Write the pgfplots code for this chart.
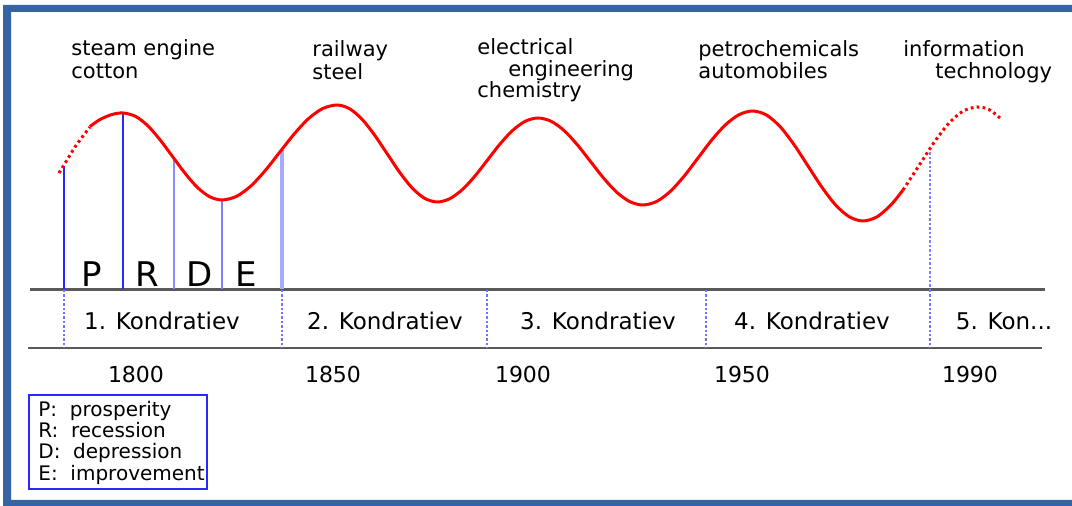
\documentclass[border=0pt]{standalone}
\usepackage{fontspec}
\setmainfont{DejaVu Sans}
\usepackage{pgfplots}
\pgfplotsset{compat=1.18}
\definecolor{frameblue}{RGB}{52,100,164}
\definecolor{curvered}{RGB}{255,0,0}
\definecolor{lineblue}{RGB}{40,40,255}
\definecolor{bandgray}{RGB}{90,90,90}
\begin{document}
\begin{tikzpicture}
\useasboundingbox (0,0) rectangle (536pt,253pt);
\begin{axis}[
  at={(0,0)}, anchor=south west,
  scale only axis, width=536pt, height=253pt,
  xmin=0, xmax=1072, ymin=0, ymax=506, y dir=reverse,
  hide axis, clip=false,
  every axis plot/.append style={no markers},
]
% frame: left, top and bottom bars only (right side lies outside the picture)
\fill[frameblue] (axis cs:1072,5) -- (axis cs:3,5) -- (axis cs:3,506) -- (axis cs:1072,506) -- (axis cs:1072,500) -- (axis cs:11,500) -- (axis cs:11,12) -- (axis cs:1072,12) -- cycle;
% band lines
\addplot[bandgray, line width=1.2pt] coordinates {(30,289.5) (1045,289.5)};
\addplot[bandgray, line width=1.2pt] coordinates {(28,348) (1042,348)};
% blue vertical lines (phases)
\addplot[lineblue, line width=0.8pt] coordinates {(64,166) (64,289)};
\addplot[lineblue, line width=0.8pt] coordinates {(123,113) (123,289)};
\addplot[lineblue!55, line width=1.2pt] coordinates {(174,158) (174,289)};
\addplot[lineblue!60, line width=1.2pt] coordinates {(222,200) (222,289)};
\addplot[lineblue!40, line width=1.6pt] coordinates {(282,150) (282,289)};
\addplot[lineblue!60, line width=0.7pt, dash pattern=on 1.2pt off 1pt] coordinates {(930,148) (930,289)};
% dashed separators in the band
\addplot[lineblue!65, line width=0.6pt, dash pattern=on 1.2pt off 1pt] coordinates {(64,290) (64,348)};
\addplot[lineblue!65, line width=0.6pt, dash pattern=on 1.2pt off 1pt] coordinates {(282,290) (282,348)};
\addplot[lineblue!65, line width=0.6pt, dash pattern=on 1.2pt off 1pt] coordinates {(487,290) (487,348)};
\addplot[lineblue!65, line width=0.6pt, dash pattern=on 1.2pt off 1pt] coordinates {(706,290) (706,348)};
\addplot[lineblue!65, line width=0.6pt, dash pattern=on 1.2pt off 1pt] coordinates {(930,290) (930,348)};
% wave
\addplot[curvered, line width=1.5pt, smooth, dash pattern=on 1.4pt off 1.6pt] coordinates {
(59,173) (67,160) (75,147) (83,136) (90,127)};
\addplot[curvered, line width=1.5pt, smooth] coordinates {
(90,126.5) (100,119.5) (112,114.5) (123,113)
(135.4,116.3) (147.75,125.7) (160.1,139.9) (172.5,156.5) (184.9,173.1) (197.25,187.3) (209.6,196.7) (222,200)
(236.4,196.4) (250.75,186.1) (265.1,170.7) (279.5,152.5) (293.9,134.3) (308.25,118.9) (322.6,108.6) (337,105)
(349.5,108.7) (362,119.2) (374.5,135.0) (387,153.5) (399.5,172.1) (412,187.8) (424.5,198.3) (437,202)
(449.6,198.8) (462.25,189.7) (474.9,176.1) (487.5,160) (500.1,143.9) (512.75,130.3) (525.4,121.2) (538,118)
(551.1,121.3) (564.25,130.7) (577.4,144.9) (590.5,161.5) (603.6,178.1) (616.75,192.3) (629.9,201.7) (643,205)
(656.75,201.4) (670.5,191.2) (684.25,176.0) (698,158) (711.75,140.0) (725.5,124.8) (739.25,114.6) (753,111)
(766.75,115.2) (780.5,127.1) (794.25,145.0) (808,166) (821.75,187.0) (835.5,204.9) (849.25,216.8) (863,221)
(877.25,216.7) (891.5,204.3) (903,190)};
\addplot[curvered, line width=1.5pt, smooth, dash pattern=on 1.4pt off 1.6pt] coordinates {
(903,190) (920,164) (934.25,142.2) (948.5,123.7) (962.75,111.3) (977,107) (989,109.5) (1000,118)};
% top labels
\tikzset{lab/.style={inner sep=0pt, anchor=base west, font=\fontsize{10.5}{12}\selectfont}}
\node[lab] at (axis cs:71,56) {steam engine};
\node[lab] at (axis cs:71,79) {cotton};
\node[lab] at (axis cs:312,57) {railway};
\node[lab] at (axis cs:312,80) {steel};
\node[lab] at (axis cs:477,55) {electrical};
\node[lab] at (axis cs:508,77) {engineering};
\node[lab] at (axis cs:477,98) {chemistry};
\node[lab] at (axis cs:698,57) {petrochemicals};
\node[lab] at (axis cs:698,79) {automobiles};
\node[lab] at (axis cs:903,57) {information};
\node[lab] at (axis cs:935,79) {technology};
% phase letters
\tikzset{ph/.style={inner sep=0pt, anchor=base, font=\fontsize{17}{18}\selectfont}}
\node[ph] at (axis cs:92,287) {P};
\node[ph] at (axis cs:147,287) {R};
\node[ph] at (axis cs:200,287) {D};
\node[ph] at (axis cs:246,287) {E};
% Kondratiev labels
\tikzset{kl/.style={inner sep=0pt, anchor=base, font=\fontsize{11.5}{12}\selectfont}}
\node[kl] at (axis cs:162,330) {1. Kondratiev};
\node[kl] at (axis cs:385,330) {2. Kondratiev};
\node[kl] at (axis cs:598,330) {3. Kondratiev};
\node[kl] at (axis cs:812,330) {4. Kondratiev};
\node[kl] at (axis cs:1004,330) {5. Kon...};
% years
\tikzset{yr/.style={inner sep=0pt, anchor=base, font=\fontsize{11}{12}\selectfont}}
\node[yr] at (axis cs:136,383) {1800};
\node[yr] at (axis cs:333,383) {1850};
\node[yr] at (axis cs:523,383) {1900};
\node[yr] at (axis cs:742,383) {1950};
\node[yr] at (axis cs:970,383) {1990};
% legend box
\draw[lineblue, line width=1pt] (axis cs:29,395) rectangle (axis cs:207,489);
\tikzset{lg/.style={inner sep=0pt, anchor=base west, font=\fontsize{10}{11}\selectfont}}
\node[lg] at (axis cs:38,417) {P:\ \ prosperity};
\node[lg] at (axis cs:38,438) {R:\ \ recession};
\node[lg] at (axis cs:38,459) {D:\ \ depression};
\node[lg] at (axis cs:38,481) {E:\ \ improvement};
\end{axis}
\end{tikzpicture}
\end{document}
